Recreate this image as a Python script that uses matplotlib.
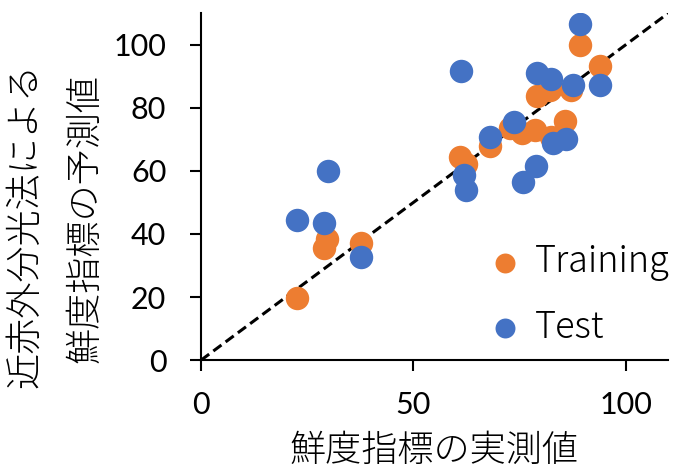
import matplotlib
matplotlib.use("Agg")
import matplotlib.pyplot as plt

# training set: measured vs NIR-predicted freshness index
train_x = [22.7, 29.0, 29.7, 37.6, 60.9, 62.4, 68.0, 75.6, 78.6, 82.5, 85.8,
           79.0, 82.1, 87.2, 89.3, 93.9, 72.7]
train_y = [19.6, 35.4, 38.3, 37.2, 64.5, 62.2, 68.0, 72.0, 73.0, 70.9, 75.7,
           83.6, 85.5, 85.7, 99.8, 93.4, 73.6]

# test set
test_x = [22.7, 29.0, 29.8, 37.6, 61.1, 61.9, 62.4, 68.0, 73.7, 75.8, 78.8,
          82.9, 85.9, 79.0, 82.3, 87.5, 89.3, 93.9]
test_y = [44.4, 43.6, 60.1, 32.8, 91.7, 58.7, 53.8, 70.7, 75.4, 56.6, 61.4,
          69.0, 70.1, 91.0, 89.3, 87.2, 106.7, 87.3]

x_ticks = [0, 50, 100]
y_ticks = [0, 20, 40, 60, 80, 100]

ORANGE = "#ED7D31"
BLUE = "#4472C4"
JP = ["Noto Sans CJK JP", "DejaVu Sans"]

fig = plt.figure(figsize=(6.77, 4.72), dpi=100)
ax = fig.add_axes([0.297, 0.237, 0.690, 0.735])

ax.plot([0, 110], [0, 110], color="black", lw=2.2,
        linestyle=(0, (3.3, 1.7)), zorder=1)
ax.scatter(train_x, train_y, s=285, color=ORANGE, linewidths=0,
           label="Training", zorder=2)
ax.scatter(test_x, test_y, s=285, color=BLUE, linewidths=0,
           label="Test", zorder=3)

ax.set_xlim(0, 110)
ax.set_ylim(0, 110)
ax.set_xticks(x_ticks)
ax.set_yticks(y_ticks)
for s in ["top", "right"]:
    ax.spines[s].set_visible(False)
for s in ["left", "bottom"]:
    ax.spines[s].set_linewidth(1.5)
ax.tick_params(direction="out", length=8, width=1.5, labelsize=22)
ax.tick_params(axis="y", pad=17)
ax.tick_params(axis="x", pad=14)
for lab in ax.get_xticklabels() + ax.get_yticklabels():
    lab.set_fontfamily("Lato")

leg = ax.legend(loc="center left", bbox_to_anchor=(0.619, 0.188),
                frameon=False, borderpad=0, borderaxespad=0,
                markerscale=0.85, handletextpad=0.45, labelspacing=0.75,
                handlelength=0.8,
                prop={"family": JP, "size": 26, "weight": "light"})

fig.text(0.641, 0.004, "鮮度指標の実測値", family=JP, fontsize=26,
         weight="light", ha="center", va="bottom")
fig.text(0.037, 0.523, "近赤外分光法による", family=JP, fontsize=26,
         weight="light", rotation=90, ha="center", va="center")
fig.text(0.126, 0.538, "鮮度指標の予測値", family=JP, fontsize=26,
         weight="light", rotation=90, ha="center", va="center")

fig.savefig("out.png", dpi=100)
